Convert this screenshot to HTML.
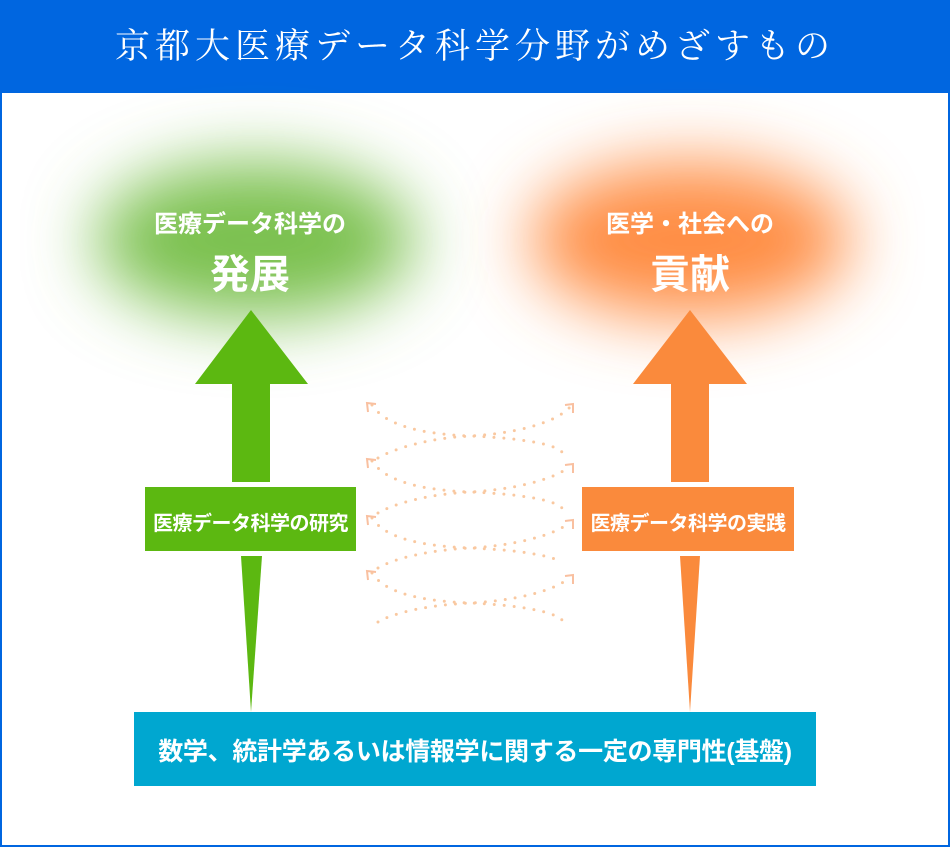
<!DOCTYPE html>
<html><head><meta charset="utf-8"><style>
html,body{margin:0;padding:0;background:#fff}
body{width:950px;height:847px;position:relative;overflow:hidden;font-family:"Liberation Sans","Noto Sans CJK JP",sans-serif}
.frame{position:absolute;left:0;top:0;width:946px;height:843px;border:2px solid #0066e0}
.hdr{position:absolute;left:0;top:0;width:950px;height:93px;background:#0066e0;color:#fff;font-family:"Liberation Serif","Noto Serif CJK SC",serif;font-size:35px;letter-spacing:5px;text-align:center;line-height:93px;font-weight:normal}
.t{position:absolute;color:#fff;font-weight:bold;text-align:center;white-space:nowrap}
</style></head><body>
<div class="frame"></div>
<div class="hdr">京都大医療データ科学分野がめざすもの</div>
<svg width="950" height="847" style="position:absolute;left:0;top:0">
<defs>
<filter id="b" x="-50%" y="-80%" width="200%" height="260%"><feGaussianBlur stdDeviation="34"/></filter>
</defs>
<ellipse cx="255" cy="240" rx="160" ry="78" fill="#7cc150" filter="url(#b)"/>
<ellipse cx="690" cy="240" rx="160" ry="78" fill="#ff8e45" filter="url(#b)"/>
<polygon points="251,310 308,384 270,384 270,482 232,482 232,384 195,384" fill="#5cb811"/>
<polygon points="690,310 747,384 709,384 709,482 671,482 671,384 633,384" fill="#fa8a3c"/>
<rect x="145" y="487" width="211" height="64" fill="#5cb811"/>
<rect x="582" y="487" width="212" height="64" fill="#fa8a3c"/>
<polygon points="241,556 262,556 251,712" fill="#5cb811"/>
<polygon points="680,556 700,556 690,712" fill="#fa8a3c"/>
<rect x="134" y="712" width="682" height="74" fill="#00a7d0"/>
<g fill="none" stroke="#f9c8a0" stroke-width="3" stroke-linecap="round" stroke-dasharray="0 10">
<path d="M372,405 C385,425 420,434 470,436 S555,444 562,452"/>
<path d="M378,458 C395,448 430,438 470,436 S555,424 570,407"/>
<path d="M372,461 C385,481 420,490 470,492 S555,500 562,508"/>
<path d="M378,513 C395,503 430,494 470,492 S555,480 570,466"/>
<path d="M372,518 C385,538 420,546 470,548 S555,556 562,563"/>
<path d="M378,568 C395,558 430,550 470,548 S555,536 570,522"/>
<path d="M372,573 C385,593 420,601 470,603 S555,612 562,620"/>
<path d="M378,622 C395,612 430,605 470,603 S555,592 570,577"/>
</g>
<g fill="none" stroke="#f9c0a0" stroke-width="2">
<path d="M368,412 L367,403 L376,404"/><path d="M368,468 L367,459 L376,460"/><path d="M368,525 L367,516 L376,517"/><path d="M368,580 L367,571 L376,572"/>
<path d="M565,405 L573,404 L573,413"/><path d="M565,465 L573,464 L573,473"/><path d="M565,521 L573,520 L573,529"/><path d="M565,576 L573,575 L573,584"/>
</g>
</svg>
<div class="t" style="left:100px;width:300px;top:204px;font-size:24px">医療データ科学の</div>
<div class="t" style="left:100px;width:300px;top:242px;font-size:40px">発展</div>
<div class="t" style="left:540px;width:300px;top:204px;font-size:24px">医学・社会への</div>
<div class="t" style="left:540px;width:300px;top:242px;font-size:40px">貢献</div>
<div class="t" style="left:135px;width:231px;top:507px;font-size:20px;letter-spacing:-0.5px">医療データ科学の研究</div>
<div class="t" style="left:572px;width:232px;top:507px;font-size:20px;letter-spacing:-0.5px">医療データ科学の実践</div>
<div class="t" style="left:124px;width:702px;top:732px;font-size:25px;letter-spacing:-0.3px">数学、統計学あるいは情報学に関する一定の専門性(基盤)</div>
</body></html>
